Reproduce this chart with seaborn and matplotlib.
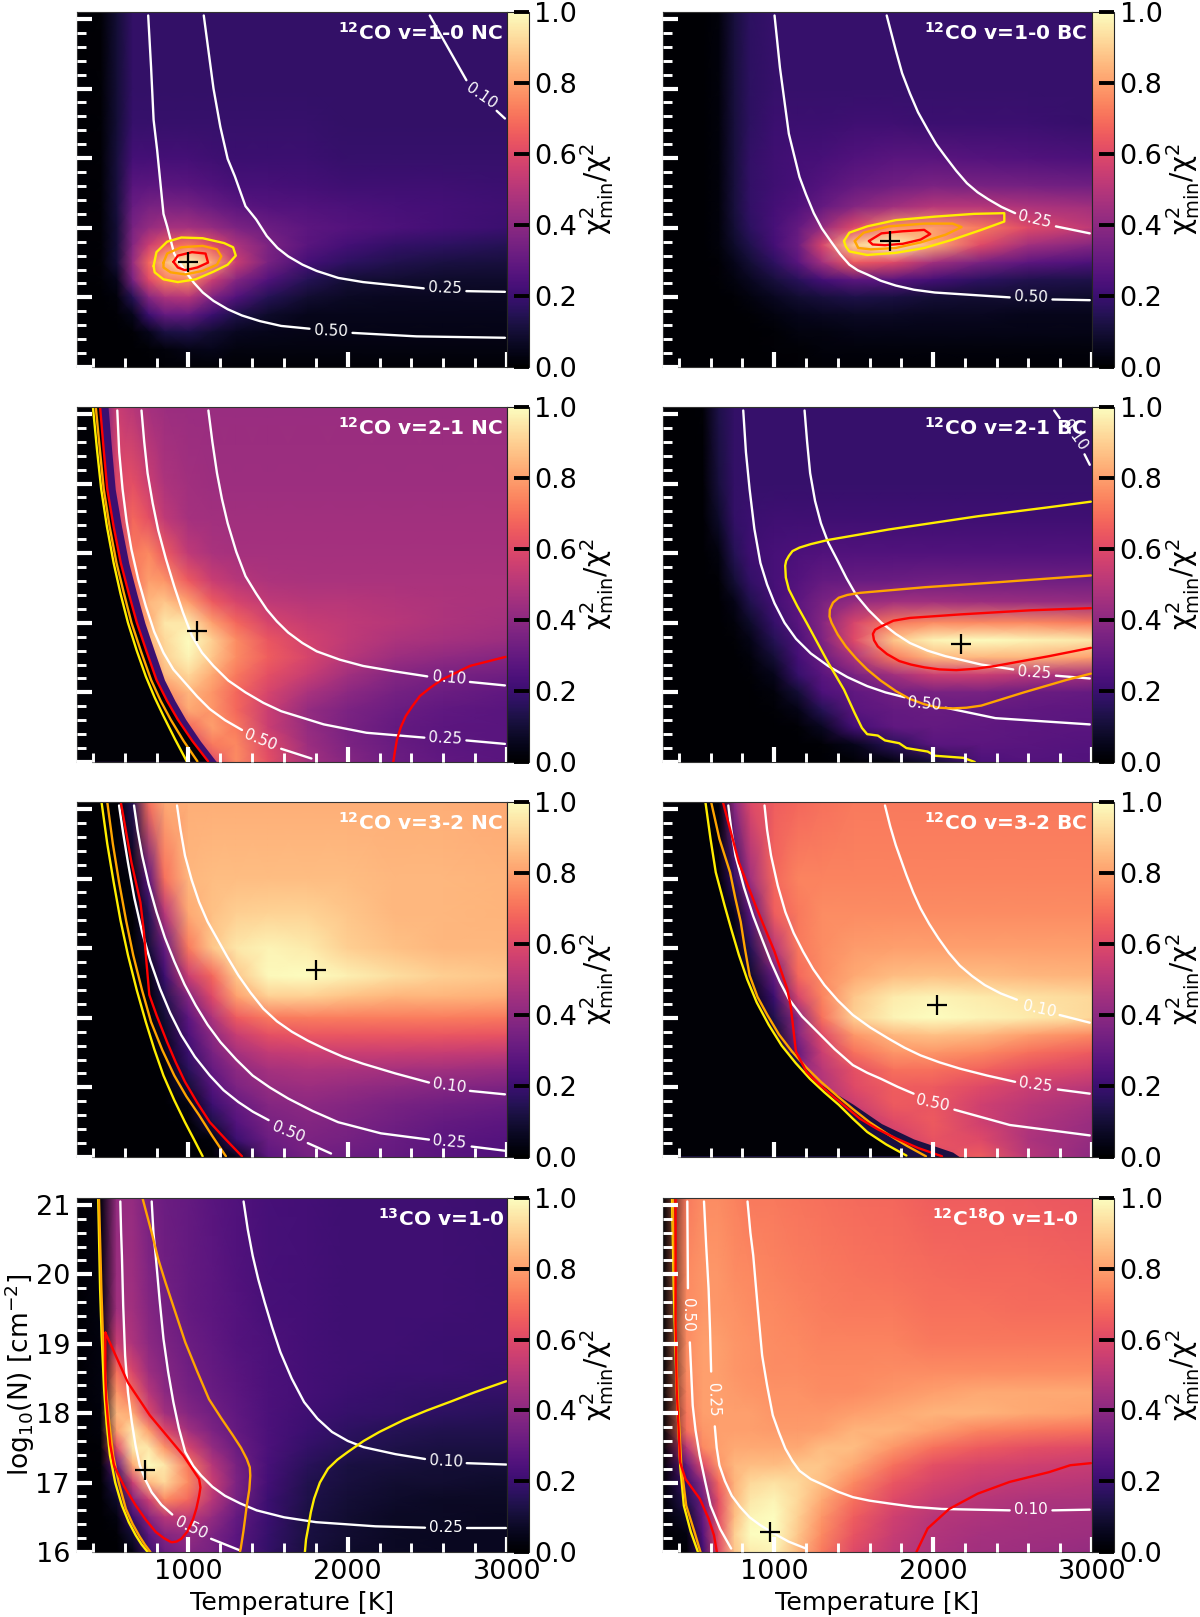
import numpy as np
import matplotlib
matplotlib.use('Agg')
import matplotlib.pyplot as plt
from matplotlib.ticker import MultipleLocator
import seaborn as sns

# grid nodes
TEMP = [300, 450, 550, 650, 750, 850, 1000, 1150, 1300, 1500, 1750, 2000, 2300, 2600, 3000]
LOGN = [21.1, 20, 19.5, 19, 18.6, 18.3, 18, 17.75, 17.5, 17.25, 17, 16.75, 16.5, 16.25, 16]

# ------------------------------------------------------------------ 12CO 1-0 NC
P1_MAP = [
    [0, .01, .10, .18, .18, .18, .18, .18, .18, .18, .18, .18, .18, .18, .18],
    [0, .01, .10, .18, .18, .18, .18, .18, .18, .18, .18, .18, .18, .18, .18],
    [0, .01, .10, .19, .19, .19, .19, .19, .19, .19, .19, .18, .18, .18, .18],
    [0, .01, .11, .22, .22, .22, .22, .21, .20, .20, .20, .19, .19, .19, .19],
    [0, .01, .11, .27, .28, .28, .27, .25, .23, .23, .22, .21, .21, .21, .20],
    [0, .01, .11, .31, .35, .36, .35, .31, .28, .26, .25, .24, .23, .22, .21],
    [0, .01, .10, .35, .42, .46, .46, .42, .36, .32, .28, .26, .24, .22, .20],
    [0, .01, .10, .38, .55, .65, .72, .62, .48, .36, .27, .22, .18, .17, .15],
    [0, .01, .10, .42, .68, .85, 1.0, .82, .55, .35, .22, .17, .14, .12, .11],
    [0, .01, .05, .35, .60, .72, .75, .55, .38, .25, .15, .10, .09, .08, .08],
    [0, 0, .02, .15, .38, .48, .50, .36, .25, .15, .09, .07, .06, .06, .06],
    [0, 0, .01, .05, .20, .30, .30, .20, .13, .08, .05, .05, .05, .05, .05],
    [0, 0, 0, .01, .05, .12, .13, .09, .06, .05, .04, .04, .04, .04, .04],
    [0, 0, 0, 0, .01, .02, .04, .05, .03, .03, .03, .03, .03, .03, .03],
    [0, 0, 0, 0, 0, .01, .01, .01, .01, .01, .01, .01, .01, .01, .01],
]
P1_W50 = [(747, 21.05), (765, 20.31), (781, 19.55), (803, 19.12), (843, 18.2), (866, 18.02), (910, 17.63), (944, 17.5),
          (978, 17.38), (1034, 17.21), (1090, 17.07), (1157, 16.95), (1246, 16.83), (1336, 16.74), (1447, 16.66),
          (1582, 16.59), (1760, 16.55), None, (2030, 16.49), (2432, 16.44), (2987, 16.42)]
P1_W25 = [(1096, 21.05), (1125, 20.55), (1157, 20.0), (1200, 19.45), (1246, 18.99), (1291, 18.74), (1358, 18.31),
          (1425, 18.12), (1492, 17.88), (1559, 17.71), (1626, 17.59), (1716, 17.47), (1805, 17.38), (1940, 17.28),
          (2096, 17.22), (2477, 17.13), None, (2745, 17.09), (2987, 17.08)]
P1_W10 = [(2515, 21.05), (2745, 20.12), None, (2935, 19.68), (2987, 19.57)]
P1_YEL = [(781, 17.45), (799, 17.65), (866, 17.8), (955, 17.86), (1089, 17.85), (1224, 17.78), (1280, 17.72),
          (1297, 17.6), (1246, 17.47), (1157, 17.37), (1045, 17.26), (933, 17.22), (843, 17.26), (788, 17.36),
          (781, 17.45)]
P1_ORA = [(843, 17.5), (866, 17.63), (955, 17.72), (1089, 17.74), (1179, 17.69), (1206, 17.59), (1179, 17.47),
          (1089, 17.38), (978, 17.33), (888, 17.36), (843, 17.43), (843, 17.5)]
P1_RED = [(906, 17.51), (933, 17.6), (1022, 17.65), (1107, 17.63), (1123, 17.5), (1056, 17.43), (978, 17.39),
          (933, 17.43), (906, 17.51)]
P1_BEST = (1000, 17.51)
P1_LABELS = [("0.50", 1894, 16.52, -2), ("0.25", 2610, 17.13, -2), ("0.10", 2841, 19.89, -35)]

# ------------------------------------------------------------------ 12CO 1-0 BC
P2_MAP = [
    [0, 0, 0, .02, .11, .17, .19, .19, .19, .19, .19, .19, .19, .19, .19],
    [0, 0, 0, .02, .11, .17, .19, .19, .19, .19, .19, .19, .19, .19, .19],
    [0, 0, 0, .02, .11, .17, .20, .20, .20, .21, .21, .20, .20, .20, .19],
    [0, 0, 0, .02, .11, .18, .21, .22, .23, .25, .27, .27, .26, .25, .24],
    [0, 0, 0, .02, .11, .18, .21, .23, .26, .30, .33, .36, .35, .34, .33],
    [0, 0, 0, .02, .11, .18, .22, .25, .30, .38, .45, .50, .50, .48, .45],
    [0, 0, 0, .02, .10, .17, .23, .30, .42, .60, .78, .80, .72, .60, .52],
    [0, 0, 0, .02, .08, .14, .22, .32, .58, .90, 1.0, .82, .60, .45, .38],
    [0, 0, 0, .01, .05, .10, .17, .27, .45, .65, .60, .45, .35, .28, .24],
    [0, 0, 0, .01, .03, .06, .11, .16, .22, .28, .27, .22, .17, .14, .13],
    [0, 0, 0, 0, .01, .03, .06, .09, .11, .13, .12, .10, .09, .09, .08],
    [0, 0, 0, 0, 0, .01, .03, .05, .06, .07, .07, .06, .06, .05, .05],
    [0, 0, 0, 0, 0, 0, .01, .03, .03, .04, .04, .04, .04, .04, .04],
    [0, 0, 0, 0, 0, 0, .01, .01, .02, .02, .02, .02, .02, .02, .02],
    [0, 0, 0, 0, 0, 0, 0, .01, .01, .01, .01, .01, .01, .01, .01],
]
P2_W50 = [(1002, 21.05), (1036, 20.3), (1092, 19.35), (1159, 18.73), (1200, 18.48), (1249, 18.21), (1300, 17.99),
          (1361, 17.79), (1415, 17.62), (1473, 17.47), (1525, 17.39), (1585, 17.33), (1670, 17.24), (1765, 17.17),
          (1880, 17.11), (2011, 17.07), (2482, 17.0), None, (2751, 16.97), (2986, 16.96)]
P2_W25 = [(1708, 21.05), (1765, 20.55), (1805, 20.22), (1854, 19.93), (1905, 19.66), (1966, 19.41), (2020, 19.2),
          (2078, 19.02), (2145, 18.82), (2213, 18.64), (2280, 18.51), (2347, 18.41), (2430, 18.3), (2516, 18.21),
          None, (2773, 18.02), (2986, 17.92)]
P2_YEL = [(1439, 17.81), (1473, 17.93), (1585, 18.02), (1765, 18.11), (2011, 18.16), (2258, 18.2), (2448, 18.21),
          (2448, 18.09), (2303, 17.97), (2123, 17.83), (1944, 17.71), (1765, 17.64), (1585, 17.61), (1473, 17.66),
          (1451, 17.73), (1439, 17.81)]
P2_ORA = [(1507, 17.81), (1563, 17.93), (1720, 18.02), (1944, 18.06), (2123, 18.06), (2179, 18.01), (2078, 17.9),
          (1921, 17.79), (1765, 17.71), (1608, 17.69), (1529, 17.71), (1507, 17.81)]
P2_RED = [(1596, 17.81), (1675, 17.92), (1809, 17.95), (1944, 17.97), (1982, 17.91), (1921, 17.83), (1809, 17.77),
          (1697, 17.75), (1619, 17.76), (1596, 17.81)]
P2_BEST = (1729, 17.81)
P2_LABELS = [("0.50", 2616, 17.0, -2), ("0.25", 2639, 18.12, -13)]

# ------------------------------------------------------------------ 12CO 2-1 NC
P3_MAP = [
    [0, .30, .55, .50, .46, .44, .43, .43, .43, .43, .43, .43, .43, .43, .43],
    [0, .30, .60, .62, .55, .48, .45, .44, .44, .44, .44, .44, .44, .44, .44],
    [0, .30, .55, .68, .62, .52, .46, .45, .45, .45, .45, .45, .45, .45, .45],
    [0, .40, .50, .72, .75, .65, .52, .47, .46, .46, .46, .46, .46, .46, .46],
    [0, .40, .55, .70, .80, .78, .65, .55, .50, .48, .47, .47, .47, .47, .47],
    [0, .50, .55, .65, .85, .88, .80, .65, .58, .52, .50, .50, .49, .48, .47],
    [0, .50, .60, .72, .82, .95, .95, .80, .68, .58, .54, .52, .50, .48, .46],
    [0, .50, .50, .70, .85, .92, 1.0, .90, .76, .64, .57, .52, .48, .46, .44],
    [0, .50, .50, .65, .78, .90, .98, .88, .76, .66, .58, .50, .44, .41, .38],
    [0, .50, .50, .50, .68, .85, .92, .82, .72, .62, .54, .45, .38, .35, .33],
    [0, .50, .50, .50, .60, .75, .85, .78, .68, .58, .47, .40, .34, .32, .29],
    [0, .50, .50, .50, .55, .62, .82, .78, .68, .55, .42, .36, .32, .29, .27],
    [0, .50, .50, .50, .50, .55, .68, .80, .72, .55, .42, .35, .30, .28, .27],
    [0, .50, .50, .50, .50, .50, .55, .72, .75, .60, .44, .36, .31, .28, .27],
    [0, .50, .50, .50, .50, .50, .50, .60, .76, .62, .46, .38, .32, .29, .27],
]
P3_EDGE = [(495, 21.1), (517, 20.5), (540, 19.92), (580, 19.38), (625, 18.86), (675, 18.42), (726, 18.0), (788, 17.58),
           (849, 17.18), (915, 16.88), (983, 16.61), (1075, 16.3), (1173, 16.01), (1180, 16)]
P3_W50 = [(553, 21.05), (565, 20.45), (586, 19.92), (612, 19.45), (642, 19.05), (685, 18.62), (732, 18.24),
          (785, 17.87), (843, 17.57), (905, 17.33), (978, 17.14), (1055, 16.94), (1134, 16.76), (1230, 16.6),
          (1336, 16.46), None, (1582, 16.19), (1772, 16.05)]
P3_W25 = [(705, 21.05), (722, 20.6), (743, 20.15), (775, 19.72), (810, 19.33), (858, 18.92), (911, 18.52),
          (965, 18.15), (1022, 17.81), (1085, 17.57), (1157, 17.38), (1250, 17.17), (1358, 17.0), (1470, 16.85),
          (1582, 16.73), (1850, 16.54), (2118, 16.42), (2481, 16.35), None, (2745, 16.31), (2987, 16.26)]
P3_W10 = [(1125, 21.05), (1150, 20.6), (1179, 20.15), (1210, 19.78), (1246, 19.43), (1300, 19.02), (1358, 18.67),
          (1425, 18.42), (1492, 18.19), (1555, 18.02), (1626, 17.86), (1715, 17.71), (1805, 17.59), (1950, 17.47),
          (2096, 17.38), (2300, 17.3), (2499, 17.23), None, (2767, 17.15), (2987, 17.1)]
P3_YEL = [(400, 21.1), (425, 20.5), (452, 19.92), (488, 19.38), (530, 18.86), (573, 18.42), (620, 18.0), (675, 17.6),
          (732, 17.23), (787, 16.93), (843, 16.66), (915, 16.33), (989, 16.01)]
P3_ORA = [(418, 21.1), (443, 20.5), (468, 19.92), (505, 19.38), (548, 18.86), (595, 18.42), (642, 18.0), (703, 17.58),
          (765, 17.18), (825, 16.88), (888, 16.61), (970, 16.3), (1056, 16.01)]
P3_RED = [(445, 21.1), (467, 20.5), (490, 19.92), (530, 19.38), (575, 18.86), (625, 18.42), (676, 18.0), (738, 17.58),
          (799, 17.18), (865, 16.88), (933, 16.61), (1025, 16.3), (1123, 16.01)]
P3_RED2 = [(2286, 16), (2296, 16.15), (2309, 16.32), (2333, 16.5), (2364, 16.66), (2405, 16.8), (2454, 16.95),
           (2520, 17.07), (2588, 17.18), (2767, 17.38), (2991, 17.51)]
P3_BEST = (1054, 17.88)
P3_LABELS = [("0.50", 1454, 16.32, -22), ("0.25", 2611, 16.34, -3), ("0.10", 2637, 17.21, -5)]

# ------------------------------------------------------------------ 12CO 2-1 BC
P4_MAP = [
    [0, 0, .01, .13, .18, .19, .19, .19, .19, .19, .19, .19, .19, .19, .19],
    [0, 0, 0, .11, .18, .19, .19, .19, .19, .19, .19, .19, .19, .19, .19],
    [0, 0, 0, .08, .18, .20, .21, .21, .21, .21, .21, .21, .21, .21, .21],
    [0, 0, 0, .03, .15, .21, .23, .24, .25, .25, .25, .25, .25, .25, .25],
    [0, 0, 0, .01, .10, .18, .23, .26, .30, .31, .32, .33, .33, .33, .33],
    [0, 0, 0, 0, .04, .14, .22, .28, .35, .42, .45, .45, .44, .43, .42],
    [0, 0, 0, 0, .02, .08, .19, .27, .38, .58, .72, .76, .75, .75, .72],
    [0, 0, 0, 0, .01, .04, .15, .24, .36, .60, .88, .98, 1.0, .98, .95],
    [0, 0, 0, 0, 0, .02, .10, .22, .31, .47, .72, .85, .85, .84, .80],
    [0, 0, 0, 0, 0, .01, .05, .19, .27, .35, .45, .55, .55, .50, .45],
    [0, 0, 0, 0, 0, 0, .02, .10, .24, .29, .33, .35, .35, .32, .30],
    [0, 0, 0, 0, 0, 0, .01, .04, .15, .27, .30, .31, .30, .29, .28],
    [0, 0, 0, 0, 0, 0, 0, .01, .06, .22, .29, .30, .29, .28, .27],
    [0, 0, 0, 0, 0, 0, 0, 0, .01, .05, .16, .27, .28, .27, .26],
    [0, 0, 0, 0, 0, 0, 0, 0, 0, .01, .03, .10, .24, .26, .25],
]
P4_W50 = [(805, 21.05), (822, 20.45), (845, 19.92), (875, 19.35), (913, 18.86), (955, 18.55), (1002, 18.28),
          (1065, 18.0), (1137, 17.77), (1230, 17.56), (1339, 17.38), (1460, 17.22), (1585, 17.09), (1700, 17.0),
          (1821, 16.93), None, (2078, 16.78), (2392, 16.63), (2986, 16.54)]
P4_W25 = [(1191, 21.05), (1207, 20.6), (1226, 20.15), (1257, 19.75), (1294, 19.43), (1340, 19.15), (1395, 18.91),
          (1455, 18.64), (1518, 18.39), (1595, 18.18), (1675, 18.0), (1765, 17.84), (1854, 17.71), (1965, 17.6),
          (2078, 17.52), (2303, 17.4), (2504, 17.33), None, (2773, 17.24), (2986, 17.2)]
P4_W10 = [(2762, 21.05), (2796, 20.94), None, (2953, 20.42), (2986, 20.27)]
P4_YEL = [(2993, 19.74), (2729, 19.66), (2280, 19.53), (1720, 19.34), (1339, 19.19), (1230, 19.13), (1159, 19.08),
          (1115, 19.03), (1092, 18.96), (1075, 18.89), (1069, 18.82), (1073, 18.65), (1092, 18.48), (1145, 18.24),
          (1204, 18.0), (1339, 17.43), (1439, 17.04), (1507, 16.7), (1552, 16.49), (1585, 16.4), (1652, 16.38),
          (1697, 16.31), (1787, 16.27), (1832, 16.2), (1966, 16.15), (2011, 16.09), (2190, 16.06), (2262, 16)]
P4_ORA = [(2993, 18.68), (2392, 18.58), (1944, 18.51), (1540, 18.43), (1460, 18.4), (1406, 18.36), (1370, 18.29),
          (1350, 18.19), (1348, 18.09), (1361, 18.0), (1400, 17.83), (1451, 17.66), (1515, 17.49), (1585, 17.33),
          (1670, 17.17), (1765, 17.02), (1850, 16.91), (1944, 16.83), (2035, 16.78), (2123, 16.77), (2210, 16.78),
          (2303, 16.81), (2571, 17.0), (2841, 17.18), (2993, 17.27)]
P4_RED = [(2993, 18.21), (2616, 18.18), (2168, 18.12), (1854, 18.07), (1750, 18.03), (1675, 17.95), (1635, 17.9),
          (1621, 17.84), (1628, 17.75), (1652, 17.66), (1710, 17.55), (1787, 17.45), (1860, 17.4), (1944, 17.36),
          (2040, 17.33), (2146, 17.32), (2270, 17.34), (2392, 17.38), (2729, 17.52), (2993, 17.64)]
P4_BEST = (2177, 17.69)
P4_LABELS = [("0.50", 1944, 16.84, -5), ("0.25", 2639, 17.29, -4), ("0.10", 2890, 20.69, -55)]

# ------------------------------------------------------------------ 12CO 3-2 NC
P5_MAP = [
    [0, 0, 0, .15, .70, .82, .83, .83, .83, .83, .83, .83, .83, .83, .82],
    [0, 0, 0, .03, .28, .70, .85, .86, .86, .86, .86, .86, .85, .85, .84],
    [0, 0, 0, .01, .15, .50, .82, .87, .90, .91, .91, .88, .85, .85, .84],
    [0, 0, 0, 0, .10, .30, .72, .88, .95, .98, .96, .90, .87, .85, .85],
    [0, 0, 0, 0, .03, .20, .55, .68, .88, .99, 1.0, .97, .93, .90, .88],
    [0, 0, 0, 0, .01, .14, .38, .60, .80, .90, .90, .87, .84, .84, .83],
    [0, 0, 0, 0, 0, .10, .28, .48, .65, .72, .73, .73, .73, .73, .72],
    [0, 0, 0, 0, 0, .07, .24, .40, .54, .62, .64, .64, .64, .64, .63],
    [0, 0, 0, 0, 0, .04, .20, .35, .46, .53, .55, .55, .55, .54, .53],
    [0, 0, 0, 0, 0, .01, .16, .30, .40, .46, .48, .47, .46, .45, .43],
    [0, 0, 0, 0, 0, 0, .10, .26, .36, .42, .44, .42, .40, .38, .36],
    [0, 0, 0, 0, 0, 0, .03, .20, .30, .38, .40, .38, .35, .33, .31],
    [0, 0, 0, 0, 0, 0, .01, .13, .26, .35, .38, .36, .33, .30, .28],
    [0, 0, 0, 0, 0, 0, 0, .02, .20, .32, .36, .34, .31, .28, .26],
    [0, 0, 0, 0, 0, 0, 0, 0, .05, .28, .34, .32, .30, .27, .25],
]
P5_W50 = [(564, 21.05), (590, 20.65), (620, 20.23), (660, 19.72), (709, 19.23), (760, 18.82), (821, 18.42),
          (885, 18.07), (955, 17.75), (1040, 17.44), (1134, 17.17), (1220, 16.96), (1313, 16.79), (1405, 16.65),
          (1503, 16.53), None, (1749, 16.2), (1895, 16.05)]
P5_W25 = [(658, 21.05), (680, 20.7), (709, 20.33), (750, 19.92), (799, 19.52), (852, 19.15), (911, 18.81),
          (975, 18.48), (1045, 18.18), (1120, 17.9), (1201, 17.65), (1300, 17.4), (1403, 17.17), (1510, 17.0),
          (1626, 16.84), (1780, 16.66), (1940, 16.5), (2208, 16.34), (2510, 16.25), None, (2778, 16.15), (2987, 16.09)]
P5_W10 = [(928, 21.05), (950, 20.7), (978, 20.33), (1020, 19.98), (1067, 19.66), (1120, 19.38), (1179, 19.14),
          (1245, 18.87), (1313, 18.61), (1390, 18.36), (1470, 18.13), (1555, 17.95), (1649, 17.8), (1750, 17.67),
          (1850, 17.56), (1970, 17.44), (2096, 17.34), (2300, 17.2), (2510, 17.07), None, (2767, 16.95), (2987, 16.9)]
P5_YEL = [(454, 21.1), (490, 20.5), (530, 19.95), (573, 19.4), (620, 18.9), (675, 18.4), (732, 17.94), (785, 17.55),
          (843, 17.17), (910, 16.82), (978, 16.5), (1035, 16.25), (1089, 16.01)]
P5_ORA = [(490, 21.1), (525, 20.5), (564, 19.95), (608, 19.4), (653, 18.9), (708, 18.4), (765, 17.94), (835, 17.54),
          (911, 17.17), (987, 16.87), (1067, 16.6), (1150, 16.3), (1235, 16.01)]
P5_RED = [(575, 21.1), (642, 20.23), (698, 19.66), (720, 19.23), (738, 18.75), (754, 18.33), (799, 18.04),
          (866, 17.65), (920, 17.36), (978, 17.08), (1055, 16.78), (1134, 16.5), (1235, 16.25), (1336, 16.01)]
P5_BEST = (1799, 18.68)
P5_LABELS = [("0.50", 1626, 16.35, -22), ("0.25", 2637, 16.21, -5), ("0.10", 2637, 17.02, -8)]

# ------------------------------------------------------------------ 12CO 3-2 BC
P6_MAP = [
    [0, 0, 0, .02, .40, .60, .66, .68, .70, .72, .72, .72, .72, .72, .72],
    [0, 0, 0, 0, .18, .45, .68, .74, .74, .74, .74, .74, .74, .74, .74],
    [0, 0, 0, 0, .05, .28, .66, .72, .76, .76, .76, .76, .76, .76, .76],
    [0, 0, 0, 0, .01, .15, .50, .72, .76, .79, .80, .80, .80, .80, .80],
    [0, 0, 0, 0, 0, .08, .30, .68, .76, .82, .86, .87, .86, .85, .84],
    [0, 0, 0, 0, 0, .02, .20, .58, .74, .88, .96, .98, .96, .94, .92],
    [0, 0, 0, 0, 0, 0, .14, .40, .70, .90, .98, 1.0, .98, .96, .92],
    [0, 0, 0, 0, 0, 0, .08, .38, .60, .78, .85, .87, .85, .80, .75],
    [0, 0, 0, 0, 0, 0, .02, .30, .55, .70, .78, .78, .75, .70, .65],
    [0, 0, 0, 0, 0, 0, .30, .40, .50, .62, .70, .70, .67, .62, .58],
    [0, 0, 0, 0, 0, 0, .30, .40, .48, .60, .66, .65, .60, .55, .50],
    [0, 0, 0, 0, 0, 0, .30, .40, .45, .55, .65, .64, .56, .51, .46],
    [0, 0, 0, 0, 0, 0, .30, .40, .40, .50, .60, .65, .56, .49, .43],
    [0, 0, 0, 0, 0, 0, .30, .40, .40, .45, .55, .63, .60, .48, .42],
    [0, 0, 0, 0, 0, 0, .30, .40, .40, .40, .50, .60, .66, .50, .40],
]
P6_EDGE = [(1137, 17.5), (1200, 17.28), (1271, 17.07), (1361, 16.95), (1495, 16.76), (1675, 16.48), (1877, 16.26),
           (2123, 16.07), (2168, 16)]
P6_W50 = [(711, 21.05), (730, 20.7), (756, 20.33), (810, 19.87), (868, 19.46), (925, 19.12), (980, 18.8), (1035, 18.52),
          (1092, 18.27), (1175, 18.02), (1271, 17.8), (1380, 17.55), (1495, 17.32), (1585, 17.21), (1675, 17.12),
          (1775, 17.01), (1877, 16.91), None, (2134, 16.68), (2482, 16.46), (2986, 16.31)]
P6_W25 = [(939, 21.05), (955, 20.7), (980, 20.33), (1022, 19.9), (1070, 19.52), (1122, 19.22), (1182, 18.95),
          (1245, 18.7), (1316, 18.47), (1400, 18.25), (1495, 18.04), (1605, 17.86), (1720, 17.7), (1820, 17.57),
          (1921, 17.46), (2040, 17.36), (2168, 17.27), (2340, 17.17), (2516, 17.08), None, (2785, 16.97), (2986, 16.91)]
P6_W10 = [(1697, 21.05), (1730, 20.75), (1765, 20.48), (1832, 20.05), (1875, 19.8), (1921, 19.57), (1975, 19.35),
          (2034, 19.14), (2100, 18.93), (2168, 18.75), (2245, 18.6), (2325, 18.47), (2425, 18.35), (2527, 18.26),
          None, (2796, 18.04), (2986, 17.93)]
P6_YEL = [(567, 21.1), (599, 20.57), (632, 20.09), (688, 19.61), (730, 19.27), (778, 18.9), (830, 18.55), (890, 18.22),
          (965, 17.9), (1047, 17.6), (1135, 17.35), (1226, 17.12), (1315, 16.93), (1406, 16.75), (1495, 16.55),
          (1585, 16.36), (1705, 16.18), (1832, 16.02)]
P6_ORA = [(603, 21.1), (655, 20.57), (722, 20.09), (755, 19.72), (789, 19.38), (815, 19.0), (845, 18.61), (895, 18.3),
          (957, 18.04), (1030, 17.76), (1114, 17.51), (1200, 17.29), (1294, 17.08), (1395, 16.88), (1495, 16.69),
          (1600, 16.5), (1720, 16.32), (1835, 16.16), (1955, 16.01)]
P6_RED = [(677, 21.1), (778, 20.23), (890, 19.57), (1002, 18.95), (1081, 18.42), (1103, 18.18), (1137, 17.51),
          (1204, 17.22), (1280, 17.05), (1361, 16.89), (1450, 16.72), (1540, 16.55), (1650, 16.4), (1765, 16.27),
          (1905, 16.13), (2056, 16.01)]
P6_BEST = (2027, 18.19)
P6_LABELS = [("0.50", 1994, 16.77, -12), ("0.25", 2646, 17.04, -8), ("0.10", 2670, 18.12, -12)]

# ------------------------------------------------------------------ 13CO 1-0
P7_MAP = [
    [0, .03, .42, .42, .35, .32, .30, .27, .25, .23, .22, .21, .21, .21, .20],
    [0, .03, .44, .44, .37, .33, .30, .28, .25, .23, .22, .21, .21, .21, .20],
    [0, .03, .45, .45, .38, .34, .30, .28, .26, .23, .22, .21, .21, .21, .20],
    [0, .03, .55, .48, .40, .36, .32, .29, .26, .24, .22, .21, .21, .20, .20],
    [0, .03, .70, .58, .44, .38, .33, .30, .27, .24, .22, .21, .20, .20, .19],
    [0, .03, .78, .68, .50, .40, .34, .31, .28, .24, .22, .20, .19, .18, .18],
    [0, .02, .85, .82, .60, .45, .38, .33, .29, .24, .21, .19, .18, .17, .16],
    [0, .02, .80, .95, .80, .60, .45, .36, .30, .24, .20, .17, .15, .14, .14],
    [0, .01, .60, .95, .95, .78, .58, .42, .32, .24, .18, .15, .13, .12, .12],
    [0, .01, .30, .82, 1.0, .95, .72, .50, .35, .23, .16, .12, .11, .10, .10],
    [0, 0, .15, .55, .85, .92, .75, .55, .36, .22, .14, .11, .09, .09, .08],
    [0, 0, .08, .35, .55, .75, .68, .50, .34, .20, .13, .10, .08, .07, .07],
    [0, 0, .03, .20, .38, .50, .52, .42, .30, .20, .12, .09, .07, .07, .06],
    [0, 0, .01, .10, .28, .38, .42, .36, .28, .19, .12, .09, .07, .06, .06],
    [0, 0, 0, .03, .20, .32, .38, .34, .27, .18, .11, .08, .07, .06, .06],
]
P7_W50 = [(572, 21.05), (577, 20.6), (582, 20.27), (590, 19.55), (602, 18.83), (620, 18.3), (644, 17.87), (668, 17.53),
          (694, 17.25), (730, 17.04), (769, 16.86), (830, 16.68), (898, 16.54), None, (1142, 16.19), (1316, 16.03)]
P7_W25 = [(769, 21.05), (780, 20.6), (794, 20.27), (818, 19.65), (843, 19.07), (872, 18.6), (905, 18.16), (940, 17.78),
          (980, 17.44), (1030, 17.24), (1080, 17.1), (1150, 16.94), (1229, 16.81), (1325, 16.7), (1428, 16.6),
          (1600, 16.5), (1801, 16.43), (2174, 16.37), (2485, 16.35), None, (2747, 16.34), (2995, 16.34)]
P7_W10 = [(1346, 21.05), (1372, 20.65), (1403, 20.27), (1438, 19.93), (1478, 19.6), (1525, 19.24), (1577, 18.88),
          (1648, 18.5), (1726, 18.16), (1810, 17.92), (1901, 17.73), (2000, 17.6), (2100, 17.51), (2299, 17.41),
          (2485, 17.34), None, (2747, 17.28), (2995, 17.26)]
P7_YEL = [(433, 21.1), (445, 19.79), (455, 19.1), (470, 18.35), (486, 17.85), (507, 17.39), (540, 17.0), (582, 16.67),
          (625, 16.43), (669, 16.24), (705, 16.11), (744, 16)]
P7_YEL2 = [(1731, 16), (1738, 16.18), (1751, 16.34), (1768, 16.57), (1789, 16.77), (1825, 17.0), (1876, 17.2),
           (1935, 17.33), (2000, 17.44), (2100, 17.6), (2199, 17.73), (2350, 17.9), (2498, 18.04), (2650, 18.17),
           (2796, 18.3), (2995, 18.46)]
P7_ORA = [(438, 21.1), (453, 19.79), (463, 19.1), (482, 18.35), (503, 17.85), (527, 17.39), (562, 17.0), (607, 16.62),
          (650, 16.4), (694, 16.22), (728, 16.1), (761, 16)]
P7_ORA2 = [(711, 21.1), (769, 20.6), (810, 20.22), (856, 19.88), (918, 19.45), (980, 19.02), (1055, 18.6), (1129, 18.2),
           (1205, 17.93), (1279, 17.68), (1330, 17.5), (1366, 17.34), (1385, 17.22), (1388, 17.1), (1382, 16.9),
           (1366, 16.67), (1345, 16.3), (1328, 16.05), (1323, 16)]
P7_RED = [(478, 19.16), (620, 18.44), (757, 17.97), (968, 17.39), (1067, 17.05), (1075, 16.93), (1067, 16.81),
          (1050, 16.63), (1030, 16.48), (995, 16.3), (955, 16.19), (925, 16.15), (893, 16.14), (845, 16.2), (794, 16.29),
          (730, 16.47), (669, 16.67), (595, 16.95), (532, 17.25), (508, 17.55), (495, 17.87), (483, 18.2), (478, 18.54),
          (478, 19.16)]
P7_BEST = (724, 17.18)
P7_LABELS = [("0.50", 1015, 16.35, -25), ("0.25", 2615, 16.35, 0), ("0.10", 2615, 17.31, -3)]

# ------------------------------------------------------------------ 12C18O 1-0
P8_MAP = [
    [0, .72, .76, .76, .74, .72, .72, .71, .70, .69, .68, .66, .66, .65, .64],
    [0, .75, .78, .78, .76, .75, .74, .73, .72, .71, .70, .69, .68, .68, .67],
    [0, .76, .78, .78, .77, .76, .75, .74, .73, .72, .72, .70, .70, .69, .69],
    [0, .76, .80, .80, .78, .77, .76, .75, .74, .74, .74, .72, .72, .72, .72],
    [0, .76, .80, .80, .78, .77, .76, .76, .75, .75, .76, .76, .76, .76, .76],
    [0, .74, .80, .80, .79, .78, .77, .77, .76, .76, .78, .80, .82, .82, .82],
    [0, .72, .80, .80, .80, .80, .78, .78, .78, .80, .82, .84, .84, .82, .80],
    [0, .70, .78, .80, .80, .80, .79, .79, .80, .84, .84, .80, .74, .72, .70],
    [0, .50, .75, .80, .82, .82, .82, .82, .86, .86, .78, .70, .65, .62, .60],
    [0, .30, .60, .78, .85, .86, .86, .88, .88, .82, .70, .62, .58, .56, .54],
    [0, .20, .40, .68, .84, .92, .94, .92, .86, .75, .64, .58, .54, .52, .50],
    [0, .15, .32, .62, .85, .95, .98, .92, .82, .70, .60, .54, .50, .48, .47],
    [0, .08, .30, .62, .86, .98, 1.0, .90, .78, .66, .56, .50, .48, .46, .45],
    [0, .03, .25, .62, .90, 1.0, 1.0, .88, .75, .63, .54, .49, .46, .45, .44],
    [0, .01, .20, .60, .88, .96, .98, .85, .72, .60, .52, .48, .45, .44, .42],
]
P8_W50 = [(453, 21.05), (457, 19.8), None, (469, 19.02), (487, 18.11), (505, 17.75), (531, 17.39), (565, 17.02),
          (599, 16.67), (660, 16.33), (729, 16.05)]
P8_W25 = [(558, 21.05), (572, 20.4), (587, 19.79), (596, 19.2), (603, 18.6), None, (626, 17.81), (638, 17.5),
          (655, 17.25), (690, 17.02), (733, 16.81), (785, 16.65), (845, 16.5), (910, 16.39), (980, 16.29), (1090, 16.15),
          (1200, 16.05)]
P8_W10 = [(832, 21.05), (850, 20.6), (868, 20.27), (895, 19.55), (924, 18.83), (955, 18.4), (991, 17.97), (1030, 17.72),
          (1070, 17.49), (1115, 17.31), (1159, 17.17), (1230, 17.05), (1316, 16.96), (1400, 16.87), (1495, 16.79),
          (1600, 16.74), (1720, 16.7), (1880, 16.65), (2056, 16.62), (2482, 16.6), None, (2751, 16.6), (2986, 16.61)]
P8_YEL = [(357, 21.1), (368, 19.79), (386, 18.35), (408, 17.25), (431, 16.67), (475, 16.29), (520, 16)]
P8_ORA = [(361, 21.1), (372, 19.79), (390, 18.35), (415, 17.25), (446, 16.67), (498, 16.29), (536, 16)]
P8_RED = [(379, 21.1), (379, 19.31), (386, 18.35), (408, 17.29), (442, 17.05), (531, 16.77), (587, 16.48),
          (621, 16.24), (639, 16)]
P8_RED2 = [(1895, 16), (1966, 16.34), (2101, 16.62), (2280, 16.84), (2482, 17.01), (2729, 17.15), (2863, 17.25),
           (2993, 17.28)]
P8_BEST = (975, 16.29)
P8_LABELS = [("0.50", 454, 19.41, -90), ("0.25", 616, 18.2, -88), ("0.10", 2616, 16.61, 0)]

TITLES = [r"$\mathbf{^{12}}$CO v=1-0 NC", r"$\mathbf{^{12}}$CO v=1-0 BC", r"$\mathbf{^{12}}$CO v=2-1 NC",
          r"$\mathbf{^{12}}$CO v=2-1 BC", r"$\mathbf{^{12}}$CO v=3-2 NC", r"$\mathbf{^{12}}$CO v=3-2 BC",
          r"$\mathbf{^{13}}$CO v=1-0", r"$\mathbf{^{12}}$C$\mathbf{^{18}}$O v=1-0"]
MAPS = [P1_MAP, P2_MAP, P3_MAP, P4_MAP, P5_MAP, P6_MAP, P7_MAP, P8_MAP]
BEST = [P1_BEST, P2_BEST, P3_BEST, P4_BEST, P5_BEST, P6_BEST, P7_BEST, P8_BEST]
LABELS = [P1_LABELS, P2_LABELS, P3_LABELS, P4_LABELS, P5_LABELS, P6_LABELS, P7_LABELS, P8_LABELS]
WHITE = [[P1_W50, P1_W25, P1_W10], [P2_W50, P2_W25], [P3_W50, P3_W25, P3_W10], [P4_W50, P4_W25, P4_W10],
         [P5_W50, P5_W25, P5_W10], [P6_W50, P6_W25, P6_W10], [P7_W50, P7_W25, P7_W10], [P8_W50, P8_W25, P8_W10]]
YELLOW = [[P1_YEL], [P2_YEL], [P3_YEL], [P4_YEL], [P5_YEL], [P6_YEL], [P7_YEL, P7_YEL2], [P8_YEL]]
ORANGE = [[P1_ORA], [P2_ORA], [P3_ORA], [P4_ORA], [P5_ORA], [P6_ORA], [P7_ORA, P7_ORA2], [P8_ORA]]
RED = [[P1_RED], [P2_RED], [P3_RED, P3_RED2], [P4_RED], [P5_RED], [P6_RED], [P7_RED], [P8_RED, P8_RED2]]
# where the map falls off sharply: (edge of the dark area, colour level left of it, black up to this curve)
DARK_EDGE = {2: (P3_EDGE, 0.2, P3_RED), 5: (P6_EDGE, 0.12, P6_YEL)}

# ==============================================================================
# FIGURE
# ==============================================================================
W, H = 1200, 1617
COLS = [(77, 507, 528.5), (663, 1092, 1114)]
ROWS = [(12, 367), (407, 762), (802, 1157), (1198, 1552)]
TITLE_X = [0.99, 0.99, 0.99, 0.99, 0.99, 0.99, 0.995, 0.97]
FS = 19.5

sns.set_theme(style="white", rc={'axes.axisbelow': False, 'font.family': 'DejaVu Sans', 'mathtext.default': 'regular'})
cmap = sns.color_palette("magma", as_cmap=True)


def draw_curve(ax, points, color, lw=1.7):
    # None in a list means a gap (where the contour label sits)
    seg = []
    for p in points + [None]:
        if p is None:
            xs = [q[0] for q in seg]
            ys = [q[1] for q in seg]
            sns.lineplot(x=xs, y=ys, sort=False, estimator=None, color=color, linewidth=lw, ax=ax)
            seg = []
        else:
            seg.append(p)


def cover_left(ax, points, color):
    ts = [p[0] for p in points]
    ns = [p[1] for p in points]
    ax.fill_betweenx(ns, 300, ts, color=color, linewidth=0, zorder=1.2)


fig = plt.figure(figsize=(W / 100, H / 100), dpi=100)

for i in range(8):
    row, col = i // 2, i % 2
    x0, x1, x2 = COLS[col]
    y0, y1 = ROWS[row]
    ax = fig.add_axes([x0 / W, 1 - y1 / H, (x1 - x0) / W, (y1 - y0) / H])
    cax = fig.add_axes([x1 / W, 1 - y1 / H, (x2 - x1) / W, (y1 - y0) / H])

    mesh = ax.pcolormesh(TEMP, LOGN, np.array(MAPS[i]), cmap=cmap, vmin=0, vmax=1, shading='gouraud')

    if i in DARK_EDGE:
        edge, level, black_to = DARK_EDGE[i]
        cover_left(ax, edge, cmap(level))
        cover_left(ax, black_to, cmap(0.01))

    for curve in WHITE[i]:
        draw_curve(ax, curve, 'white')
    for curve in YELLOW[i]:
        draw_curve(ax, curve, '#ffee00')
    for curve in ORANGE[i]:
        draw_curve(ax, curve, 'orange')
    for curve in RED[i]:
        draw_curve(ax, curve, 'red')

    for text, t, n, rot in LABELS[i]:
        ax.text(t, n, text, color='white', fontsize=11, rotation=rot, rotation_mode='anchor',
                ha='center', va='center')

    sns.scatterplot(x=[BEST[i][0]], y=[BEST[i][1]], marker='+', s=190, color='black', linewidth=1.6, ax=ax,
                    zorder=5)

    ax.text(TITLE_X[i], 0.942, TITLES[i], color='white', fontsize=14.5, fontweight='bold', ha='right', va='center',
            transform=ax.transAxes)

    ax.set_xlim(300, 3000)
    ax.set_ylim(16, 21.1)
    ax.set_xticks([1000, 2000, 3000])
    ax.set_yticks([16, 17, 18, 19, 20, 21])
    ax.xaxis.set_minor_locator(MultipleLocator(200))
    ax.yaxis.set_minor_locator(MultipleLocator(0.2))
    ax.tick_params(which='major', direction='in', length=10.5, width=3, color='white', labelsize=FS,
                   left=True, bottom=True, labelleft=(i == 6), labelbottom=(i >= 6), labelcolor='black', pad=5)
    ax.tick_params(which='minor', direction='in', length=6.5, width=2.1, color='white', left=True, bottom=True)
    for s in ax.spines.values():
        s.set_color('#333333')
        s.set_linewidth(0.8)
    if i >= 6:
        ax.set_xlabel('Temperature [K]', fontsize=18.2, color='black', labelpad=4)
    if i == 6:
        ax.set_ylabel(r'log$_{10}$(N) [cm$^{-2}$]', fontsize=19, color='black', labelpad=-1)

    cbar = fig.colorbar(mesh, cax=cax)
    cbar.set_ticks([0, 0.2, 0.4, 0.6, 0.8, 1.0])
    cbar.ax.tick_params(direction='in', length=11, width=2.8, color='black', labelsize=FS, right=True,
                        labelcolor='black', pad=4)
    cbar.outline.set_linewidth(0.8)
    cbar.set_label(r'$\chi^2_{\rm min}/\chi^2$', fontsize=20, color='black', labelpad=1)

fig.savefig('out.png', dpi=100)
plt.close(fig)
